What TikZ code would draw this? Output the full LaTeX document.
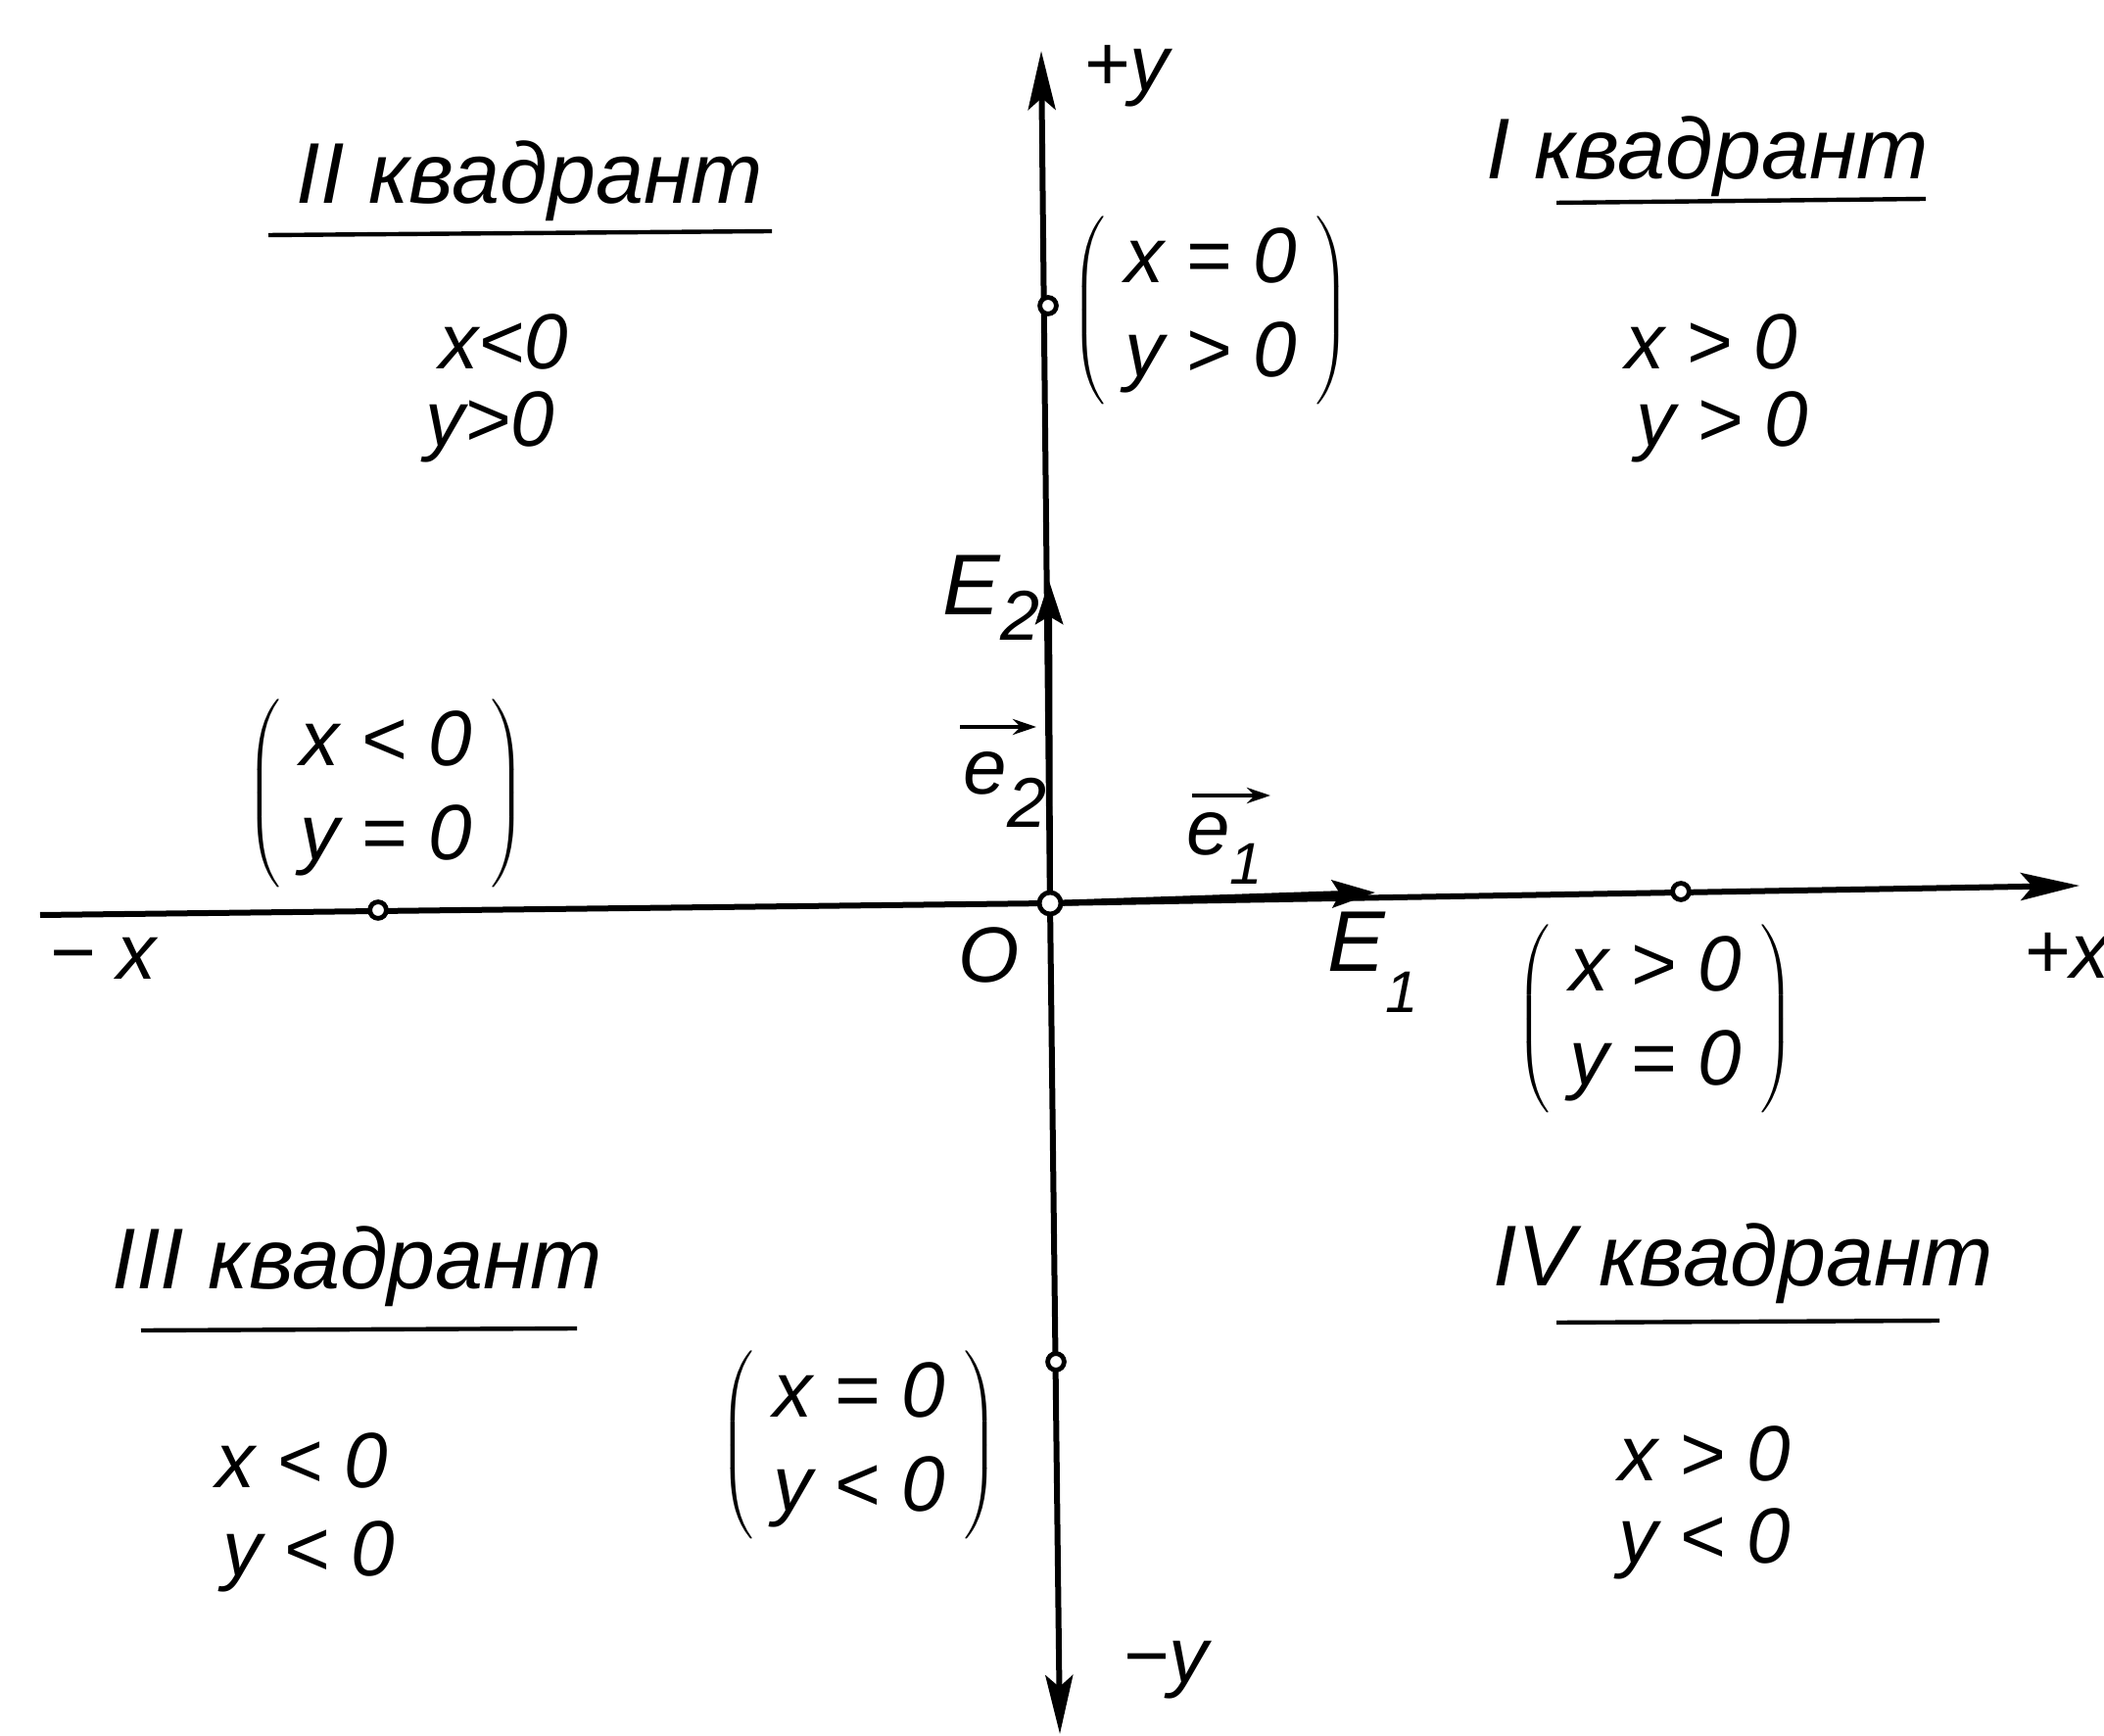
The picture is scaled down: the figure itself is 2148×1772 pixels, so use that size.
\documentclass[tikz,border=0pt]{standalone}
\usepackage{fontspec}
\setmainfont{Liberation Sans}
\usetikzlibrary{arrows.meta}
\newcommand{\subsz}[1]{{\fontsize{15}{17}\selectfont #1}}
\newcommand{\pcond}[2]{$\left(\hspace{5pt}\begin{tabular}{@{}c@{}}#1\\ #2\end{tabular}\hspace{5pt}\right)$}
\begin{document}
\begin{tikzpicture}[x=0.25pt,y=-0.25pt,
  axis/.style={line width=1.5pt},
  endtip/.style={-{Stealth[length=15pt,width=7pt,inset=3pt]}},
  midtip/.style={-{Stealth[length=11pt,width=7pt,inset=2pt]}},
  smalltip/.style={-{Stealth[length=6pt,width=4pt]}},
  pt/.style={circle,draw,line width=1.2pt,fill=white,inner sep=0pt,minimum size=4.2pt},
  lbl/.style={font=\fontsize{20}{24}\selectfont\itshape, inner sep=0pt},
  ttl/.style={font=\fontsize{22}{26}\selectfont\itshape, inner sep=0pt},
  uline/.style={line width=1.1pt},
]
\useasboundingbox[fill=white] (0,0) rectangle (2148,1772);
% axis end points and marked points
\coordinate (xneg) at (41,934);
\coordinate (xpos) at (2123,904);
\coordinate (ypos) at (1063,52);
\coordinate (yneg) at (1082,1770);
\coordinate (Oc) at (1072,922);
\coordinate (E1p) at (1404,911);
\coordinate (E2p) at (1071,593);
\coordinate (Ayc) at (1070,312);
\coordinate (Axc) at (386,929);
\coordinate (Bxc) at (1716,910);
\coordinate (Byc) at (1078,1390);
% axes
\draw[axis] (Oc) -- (xneg);
\draw[axis,endtip] (Oc) -- (xpos);
\draw[axis,midtip] (Oc) -- (E1p);
\draw[axis,endtip] (Oc) -- (ypos);
\draw[axis,endtip] (Oc) -- (yneg);
\draw[axis,midtip] (Oc) -- (E2p);
% points
\node[pt,minimum size=5.5pt] (O) at (Oc) {};
\node[pt] (Ay) at (Ayc) {};
\node[pt] (Ax) at (Axc) {};
\node[pt] (Bx) at (Bxc) {};
\node[pt] (By) at (Byc) {};
% axis labels
\node[lbl] (py) at (1150,78) {+y};
\node[lbl] (my) at (1190,1705) {−y};
\node[lbl] (mx) at (105,978) {− x};
\node[lbl,anchor=west] (px) at (2066,975) {+x};
\node[lbl] (Ol) at (1010,975) {O};
\node[lbl,font=\fontsize{22}{26}\selectfont\itshape] (E1l) at (1402,982) {E\raisebox{-0.9ex}{\subsz{1}}};
\node[lbl,font=\fontsize{22}{26}\selectfont\itshape] (E2l) at (1012,610) {E\raisebox{-0.55ex}{\fontsize{18}{20}\selectfont 2}};
\node[lbl] (e2l) at (1026,806) {e\raisebox{-0.8ex}{\fontsize{18}{20}\selectfont 2}};
\node[lbl] (e1l) at (1250,866) {e\raisebox{-0.7ex}{\subsz{1}}};
\coordinate (e2a) at (980,742);
\coordinate (e2b) at (1058,742);
\coordinate (e1a) at (1217,812);
\coordinate (e1b) at (1297,812);
\draw[uline,smalltip] (e2a) -- (e2b);
\draw[uline,smalltip] (e1a) -- (e1b);
% bracketed conditions on axes
\node[lbl] (P1) at (1236,317) {\pcond{x = 0}{y > 0}};
\node[lbl] (P2) at (394,810) {\pcond{x < 0}{y = 0}};
\node[lbl] (P3) at (1690,1040) {\pcond{x > 0}{y = 0}};
\node[lbl] (P4) at (877,1475) {\pcond{x = 0}{y < 0}};
% quadrant titles
\node[ttl] (T2) at (541,185) {II квадрант};
\node[ttl] (T1) at (1743,160) {I квадрант};
\node[ttl] (T3) at (365,1293) {III квадрант};
\node[ttl] (T4) at (1780,1290) {IV квадрант};
\coordinate (u2a) at (274,240); \coordinate (u2b) at (788,236);
\coordinate (u1a) at (1589,207); \coordinate (u1b) at (1966,203);
\coordinate (u3a) at (144,1358); \coordinate (u3b) at (589,1356);
\coordinate (u4a) at (1589,1350); \coordinate (u4b) at (1980,1348);
\draw[uline] (u2a) -- (u2b);
\draw[uline] (u1a) -- (u1b);
\draw[uline] (u3a) -- (u3b);
\draw[uline] (u4a) -- (u4b);
% quadrant conditions
\node[lbl] (c2x) at (514,349) {x<0};
\node[lbl] (c2y) at (500,436) {y>0};
\node[lbl] (c1x) at (1747,349) {x > 0};
\node[lbl] (c1y) at (1758,436) {y > 0};
\node[lbl] (c3x) at (308,1491) {x < 0};
\node[lbl] (c3y) at (315,1589) {y < 0};
\node[lbl] (c4x) at (1740,1484) {x > 0};
\node[lbl] (c4y) at (1740,1576) {y < 0};
\end{tikzpicture}
\end{document}
